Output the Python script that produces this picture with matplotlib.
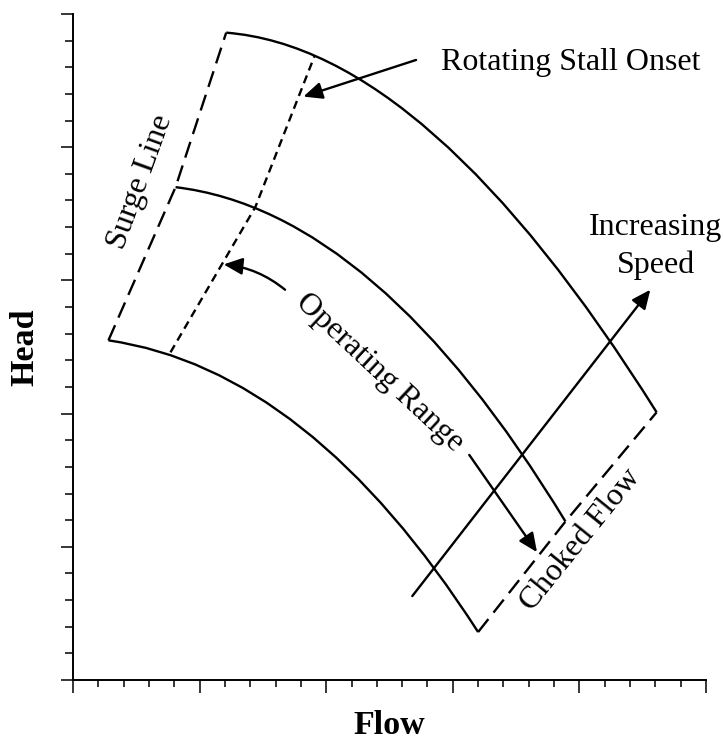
import matplotlib
matplotlib.use("Agg")
import matplotlib.pyplot as plt
from matplotlib.path import Path
from matplotlib.patches import PathPatch
from matplotlib.ticker import MultipleLocator

plt.rcParams["font.family"] = ["Liberation Serif", "DejaVu Serif"]

# ---------------------------------------------------------------------------
# Speed lines, as quadratic Bezier nodes (surge end, control, choke end)
# in axis units (flow 0-5, head 0-5)
# ---------------------------------------------------------------------------
low_speed_flow = [0.28, 1.87, 3.20]
low_speed_head = [2.55, 2.33, 0.36]

mid_speed_flow = [0.81, 2.40, 3.89]
mid_speed_head = [3.70, 3.52, 1.19]

high_speed_flow = [1.21, 2.81, 4.61]
high_speed_head = [4.86, 4.74, 2.01]

speed_lines = [
    (low_speed_flow, low_speed_head),
    (mid_speed_flow, mid_speed_head),
    (high_speed_flow, high_speed_head),
]

# rotating stall onset points, one per speed line (low -> high)
stall_flow = [0.77, 1.44, 1.91]
stall_head = [2.46, 3.55, 4.69]

# surge line joins the left ends, choke line the right ends
surge_flow = [f[0] for f, h in speed_lines]
surge_head = [h[0] for f, h in speed_lines]
choke_flow = [f[-1] for f, h in speed_lines]
choke_head = [h[-1] for f, h in speed_lines]

LW = 1.7
TXT = 23

fig = plt.figure(figsize=(7.23, 7.40), dpi=100)
ax = fig.add_axes([73 / 723, 60 / 740, 633 / 723, 666 / 740])
ax.set_xlim(0, 5)
ax.set_ylim(0, 5)

# speed lines
for flow, head in speed_lines:
    path = Path(list(zip(flow, head)), [Path.MOVETO, Path.CURVE3, Path.CURVE3])
    ax.add_patch(PathPatch(path, fill=False, lw=LW, color="black"))

ax.plot(surge_flow, surge_head, color="black", lw=LW, ls=(0, (7, 3.5)))
ax.plot(choke_flow, choke_head, color="black", lw=LW, ls=(0, (7, 3.5)))
ax.plot(stall_flow, stall_head, color="black", lw=LW, ls=(0, (3.5, 2.3)))

# annotations
arrow = dict(arrowstyle="-|>,head_length=0.6,head_width=0.27", mutation_scale=19,
             lw=LW, color="black", shrinkA=0, shrinkB=0)

ax.annotate("", xy=(1.82, 4.38), xytext=(2.71, 4.655), arrowprops=arrow)
ax.text(3.93, 4.58, "Rotating Stall Onset", fontsize=TXT, ha="center", va="baseline")

ax.annotate("", xy=(1.19, 3.12), xytext=(1.675, 2.93),
            arrowprops=dict(arrow, connectionstyle="arc3,rad=0.15"))
ax.annotate("", xy=(3.665, 0.96), xytext=(3.13, 1.69), arrowprops=arrow)
ax.text(2.425, 2.31, "Operating Range", fontsize=TXT, ha="center", va="center",
        rotation=-43, rotation_mode="anchor")

ax.annotate("", xy=(4.56, 2.93), xytext=(2.68, 0.63), arrowprops=arrow)
ax.text(4.605, 3.34, "Increasing", fontsize=TXT, ha="center", va="baseline")
ax.text(4.605, 3.055, "Speed", fontsize=TXT, ha="center", va="baseline")

ax.text(4.01, 1.05, "Choked Flow", fontsize=TXT, ha="center", va="center",
        rotation=51, rotation_mode="anchor")
ax.text(0.53, 3.74, "Surge Line", fontsize=TXT, ha="center", va="center",
        rotation=70, rotation_mode="anchor")

# axes styling
for side in ["top", "right"]:
    ax.spines[side].set_visible(False)
for side in ["left", "bottom"]:
    ax.spines[side].set_linewidth(1.4)

ax.xaxis.set_major_locator(MultipleLocator(1))
ax.xaxis.set_minor_locator(MultipleLocator(0.2))
ax.yaxis.set_major_locator(MultipleLocator(1))
ax.yaxis.set_minor_locator(MultipleLocator(0.2))
ax.tick_params(which="both", direction="out", width=1.1,
               labelbottom=False, labelleft=False)
ax.tick_params(which="major", length=9)
ax.tick_params(axis="x", which="minor", length=5)
ax.tick_params(axis="y", which="minor", length=6)

ax.set_xlabel("Flow", fontsize=24.5, fontweight="bold", va="center")
ax.set_ylabel("Head", fontsize=24.5, fontweight="bold", va="center")
ax.xaxis.set_label_coords(0.5, -45 / 666)
ax.yaxis.set_label_coords(-48.5 / 633, 0.5)

fig.savefig("out.png", dpi=100)
